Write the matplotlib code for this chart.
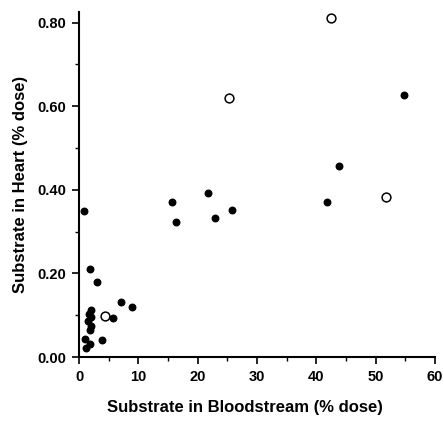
import matplotlib.pyplot as plt
from matplotlib.ticker import MultipleLocator

plt.rcParams['font.family'] = ['Liberation Sans', 'DejaVu Sans']
plt.rcParams['font.weight'] = 'bold'

# Filled circles: (% dose in bloodstream, % dose in heart)
filled_x = [0.8, 1.9, 3.0, 2.0, 1.6, 2.1, 1.5, 2.0, 1.9, 1.0, 1.8, 1.2,
            3.9, 5.8, 7.0, 8.9,
            15.7, 16.4, 21.8, 22.9, 25.7,
            41.8, 43.8, 54.8]
filled_y = [0.350, 0.211, 0.180, 0.112, 0.102, 0.095, 0.085, 0.075, 0.065, 0.042, 0.032, 0.022,
            0.040, 0.093, 0.131, 0.119,
            0.371, 0.323, 0.392, 0.332, 0.352,
            0.372, 0.457, 0.628]

# Open circles
open_x = [4.3, 25.2, 42.5, 51.7]
open_y = [0.097, 0.620, 0.811, 0.384]

fig = plt.figure(figsize=(4.44, 4.21), dpi=100)
ax = fig.add_axes([0.178, 0.152, 0.802, 0.82])

ax.scatter(filled_x, filled_y, s=22, color='black', zorder=3)
ax.scatter(open_x, open_y, s=40, facecolor='white', edgecolor='black', linewidth=1.1, zorder=3)

ax.set_xlim(0, 60)
ax.set_ylim(0, 0.826)

ax.xaxis.set_major_locator(MultipleLocator(10))
ax.xaxis.set_minor_locator(MultipleLocator(5))
ax.yaxis.set_major_locator(MultipleLocator(0.2))
ax.yaxis.set_minor_locator(MultipleLocator(0.1))
ax.yaxis.set_major_formatter(lambda v, p: '%.2f' % v)

ax.spines['top'].set_visible(False)
ax.spines['right'].set_visible(False)
ax.spines['left'].set_linewidth(1.5)
ax.spines['bottom'].set_linewidth(1.5)

ax.tick_params(which='major', direction='out', length=5, width=1.2, labelsize=10.5, pad=4)
ax.tick_params(which='minor', direction='out', length=3, width=1.0)

ax.set_xlabel('Substrate in Bloodstream (% dose)', fontsize=12, fontweight='bold')
ax.xaxis.set_label_coords(0.465, -0.125)
ax.set_ylabel('Substrate in Heart (% dose)', fontsize=12, fontweight='bold', labelpad=7)

fig.savefig('out.png', dpi=100)
